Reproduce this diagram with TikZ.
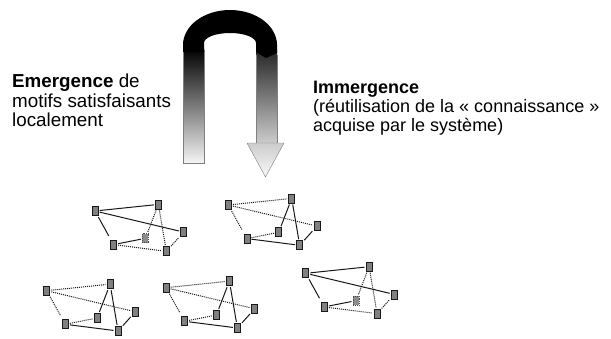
\documentclass[tikz,border=0pt]{standalone}
\usepackage{fontspec}
\setmainfont{Liberation Sans}
\tikzset{
  netnode/.style={rectangle, draw=black!90, fill=black!50, line width=0.7pt, minimum width=6pt, minimum height=9pt, inner sep=0pt, outer sep=1.6pt},
  hidnode/.style={rectangle, draw=black!70, dash pattern=on 1pt off 0.8pt, fill=black!45, line width=0.7pt, minimum width=6pt, minimum height=9pt, inner sep=0pt, outer sep=1.6pt},
  solidedge/.style={draw=black!90, line width=1pt},
  dotedge/.style={draw=black!90, line width=1pt, dash pattern=on 1pt off 1pt},
  lbl/.style={inner sep=0pt, align=left, anchor=north west},
  shaftline/.style={draw=gray, line width=0.4pt}
}
% #1 prefix, #2 x, #3 y, #4 first edge style, #5 second edge style, #6 middle node style
\newcommand\drawnet[6]{%
  \begin{scope}[shift={(#2,#3)}]
    \node[netnode] (#1tl) at (0,0) {};
    \node[netnode] (#1top) at (63.4,-6.6) {};
    \node[netnode] (#1rt) at (88.6,21.1) {};
    \node[#6] (#1mid) at (50.4,27.3) {};
    \node[netnode] (#1ll) at (18.6,33.6) {};
    \node[netnode] (#1br) at (71.4,40.3) {};
  \end{scope}
  \draw[#4] (#1tl) -- (#1top);
  \draw[#4] (#1tl) -- (#1rt);
  \draw[#4, shorten >=3pt] (#1tl) -- (#1ll);
  \draw[#4] (#1ll) -- (#1mid);
  \draw[#5] (#1top) -- (#1mid);
  \draw[#5] (#1top) -- (#1br);
  \draw[#5] (#1ll) -- (#1br);
  \draw[#5] (#1br) -- (#1rt);
}
\begin{document}
\begin{tikzpicture}[x=1pt,y=-1pt]
\useasboundingbox (0,0) rectangle (611,338);
% U-shaped arrow
\shade[top color=black, bottom color=gray!8] (183,48) rectangle (204,163);
\draw[shaftline] (183,50) -- (183,163) -- (204,163) -- (204,50);
\shade[top color=black!85, bottom color=gray!40] (256,50) rectangle (277,143);
\draw[shaftline] (256,55) -- (256,143);
\draw[shaftline] (277,55) -- (277,143);
\shade[top color=gray!40, bottom color=gray!5] (247,143) -- (284,143) -- (265.5,177) -- cycle;
\draw[shaftline] (247,143) -- (284,143) -- (265.5,177) -- cycle;
\fill[black] (183,52) -- (183,45) arc[start angle=180,end angle=360,x radius=47,y radius=35] -- (277,53) -- (266,58) -- (256,52) -- (256,43) arc[start angle=0,end angle=-180,x radius=26,y radius=10] -- (204,52) -- cycle;
% labels
\node[lbl, font=\fontsize{18.8}{19.5}\selectfont] (emerg) at (12,74) {\textbf{Emergence} de\\motifs satisfaisants\\localement};
\node[lbl, font=\fontsize{18}{19}\selectfont] (immerg) at (313,81) {\textbf{Immergence}\\(réutilisation de la «~connaissance~»\\acquise par le système)};
% networks
\drawnet{a}{95}{211}{solidedge}{dotedge}{hidnode}
\drawnet{b}{228.3}{205}{dotedge}{solidedge}{netnode}
\drawnet{c}{46.7}{290.7}{dotedge}{solidedge}{netnode}
\drawnet{d}{166}{287.7}{dotedge}{solidedge}{netnode}
\drawnet{e}{305.7}{273.3}{solidedge}{dotedge}{hidnode}
\end{tikzpicture}
\end{document}
